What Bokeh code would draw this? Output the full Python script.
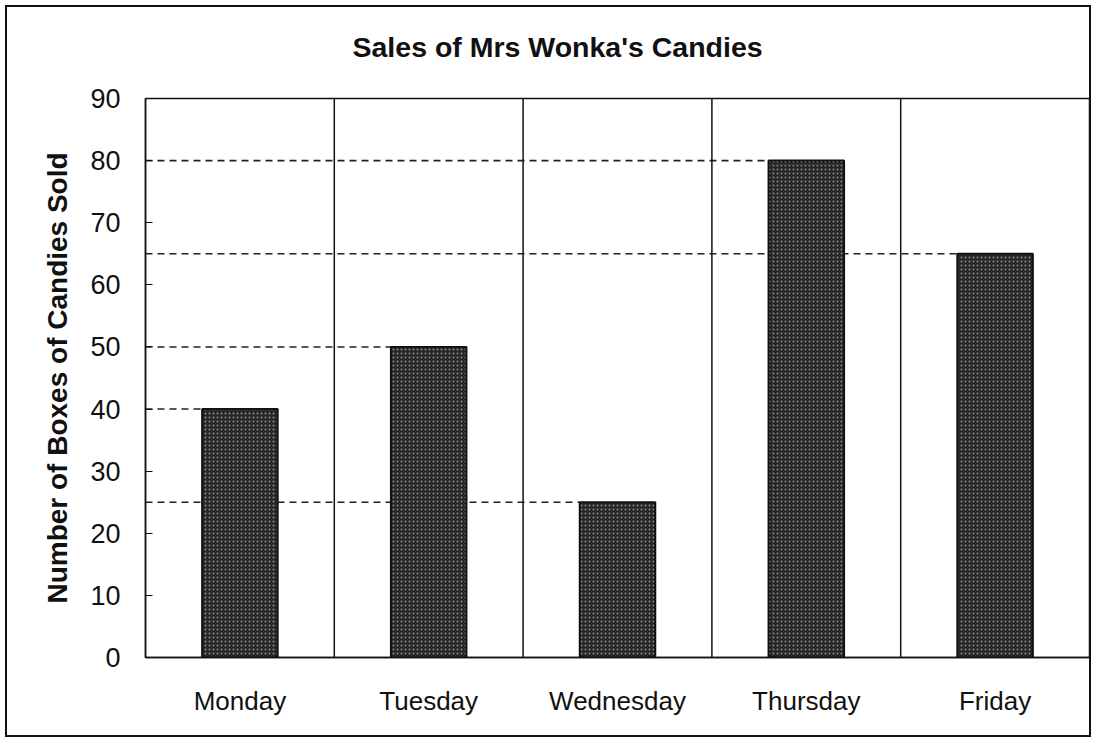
from bokeh.plotting import figure
from bokeh.models import ColumnDataSource, FactorRange, Range1d, FixedTicker
from bokeh.embed import file_html
from bokeh.resources import INLINE

# ---- data ----
days = ["Monday", "Tuesday", "Wednesday", "Thursday", "Friday"]
sales = [40, 50, 25, 80, 65]
y_ticks = [0, 10, 20, 30, 40, 50, 60, 70, 80, 90]
title_text = "Sales of Mrs Wonka's Candies"
y_label = "Number of Boxes of Candies Sold"

FONT = "Liberation Sans"
bar_width = 0.4
y_min, y_max = y_ticks[0], y_ticks[-1]

p = figure(
    width=1086, height=732,
    x_range=FactorRange(*days, range_padding=0),
    y_range=Range1d(y_min, y_max),
    output_backend="svg", toolbar_location=None,
    min_border_left=138, min_border_right=4,
    min_border_top=91, min_border_bottom=82,
)
p.styles = {"border": "2px solid #111", "margin-left": "5px", "margin-top": "5px"}

# title (a blank second line lifts it higher above the frame)
p.title.text = title_text + "\n "
p.title.align = "left"
p.title.vertical_align = "top"
p.title.offset = 207
p.title.standoff = 4
p.title.text_font = FONT
p.title.text_font_size = "28.5px"
p.title.text_font_style = "bold"
p.title.text_color = "#111111"

# dashed reference lines from the y axis to each bar's left edge
dash_src = ColumnDataSource(dict(
    x0=[(days[0], -0.5) for _ in days],
    x1=[(d, -bar_width / 2) for d in days],
    y=sales,
))
p.segment(x0="x0", y0="y", x1="x1", y1="y", source=dash_src,
          line_color="#222222", line_width=1.6, line_dash="7 5")

# vertical separators between categories
sep_src = ColumnDataSource(dict(
    x=[(d, 0.5) for d in days[:-1]],
    y0=[y_min] * (len(days) - 1),
    y1=[y_max] * (len(days) - 1),
))
p.segment(x0="x", y0="y0", x1="x", y1="y1", source=sep_src,
          line_color="#111111", line_width=1.5)

# bars
bar_src = ColumnDataSource(dict(day=days, sales=sales))
p.vbar(x="day", top="sales", width=bar_width, source=bar_src,
       fill_color="#262626", line_color="#111111", line_width=2,
       hatch_pattern="dot", hatch_color="#8a8a8a", hatch_scale=4, hatch_weight=1.2)

# frame / grid
p.outline_line_color = "#111111"
p.outline_line_width = 1.5
p.xgrid.grid_line_color = None
p.ygrid.grid_line_color = None
p.background_fill_color = "white"
p.border_fill_color = "white"

# y axis
p.yaxis.ticker = FixedTicker(ticks=y_ticks)
p.yaxis.axis_label = y_label
p.yaxis.axis_label_text_font = FONT
p.yaxis.axis_label_text_font_size = "28px"
p.yaxis.axis_label_text_font_style = "bold"
p.yaxis.axis_label_text_color = "#111111"
p.yaxis.axis_label_standoff = 14
p.yaxis.major_label_text_font = FONT
p.yaxis.major_label_text_font_size = "27px"
p.yaxis.major_label_text_color = "#111111"
p.yaxis.major_label_standoff = 25
p.yaxis.major_tick_in = 7
p.yaxis.major_tick_out = 0
p.yaxis.minor_tick_line_color = None
p.yaxis.axis_line_color = "#111111"
p.yaxis.axis_line_width = 1.5
p.yaxis.major_tick_line_color = "#111111"

# x axis
p.xaxis.major_label_text_font = FONT
p.xaxis.major_label_text_font_size = "26px"
p.xaxis.major_label_text_color = "#111111"
p.xaxis.major_label_standoff = 22
p.xaxis.major_tick_line_color = None
p.xaxis.axis_line_color = "#111111"
p.xaxis.axis_line_width = 1.5

open("out.html", "w").write(file_html(p, INLINE))
